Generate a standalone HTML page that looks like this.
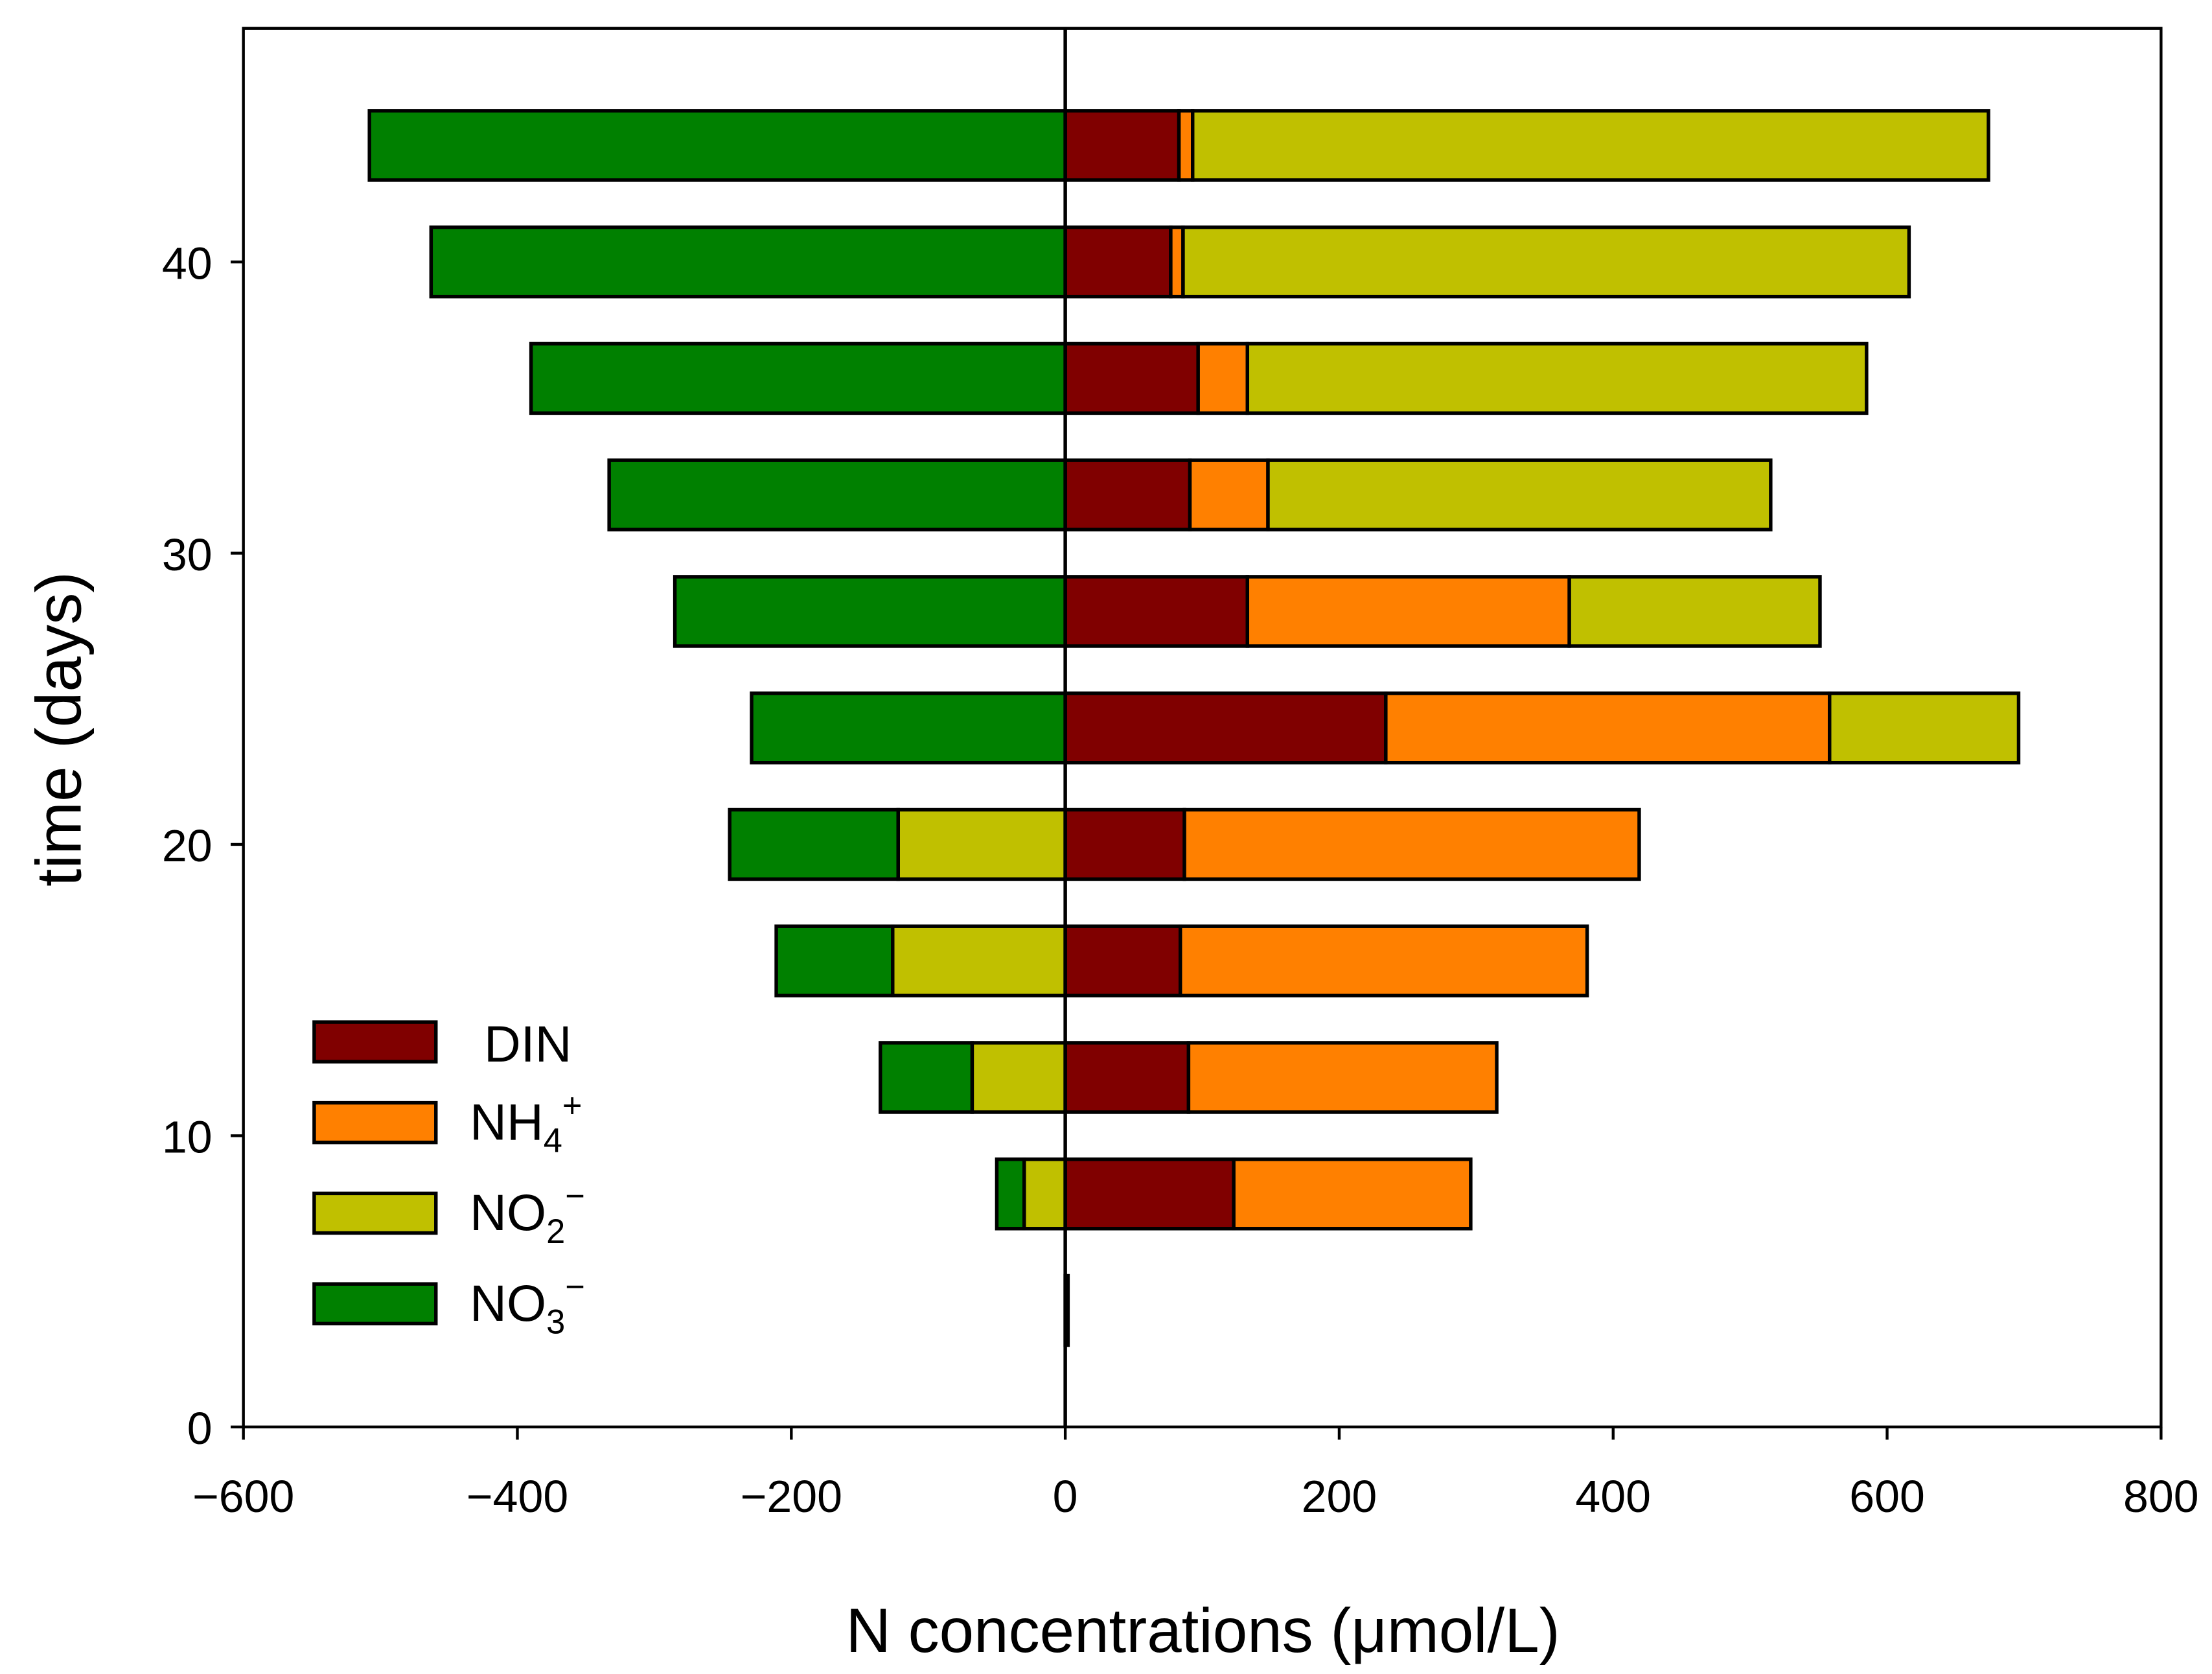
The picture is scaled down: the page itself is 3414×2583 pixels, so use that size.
<!DOCTYPE html>
<html><head><meta charset="utf-8"><style>html,body{margin:0;padding:0;background:#fff}svg{display:block}text{font-family:"Liberation Sans",sans-serif;fill:#000}</style></head>
<body>
<svg id="chart" width="3414" height="2583" viewBox="0 0 1563 1182.5" xmlns="http://www.w3.org/2000/svg">
<rect x="0" y="0" width="1563" height="1182.5" fill="#fff"/>
<g id="bars"></g>
<g id="axes"></g>
<text x="850" y="1167" font-size="44" text-anchor="middle">N concentrations (μmol/L)</text>
<text transform="translate(57,515) rotate(-90)" font-size="45" text-anchor="middle">time (days)</text>
<g font-size="36">
<g><rect x="222" y="722" width="86" height="28" fill="#800000" stroke="#000" stroke-width="2.5"/><text x="342" y="750">DIN</text></g>
<g><rect x="222" y="779" width="86" height="28" fill="#ff8000" stroke="#000" stroke-width="2.5"/><text x="332" y="805">NH<tspan font-size="24" dy="9">4</tspan><tspan font-size="24" dy="-25">+</tspan></text></g>
<g><rect x="222" y="843" width="86" height="28" fill="#c0c000" stroke="#000" stroke-width="2.5"/><text x="332" y="869">NO<tspan font-size="24" dy="9">2</tspan><tspan font-size="24" dy="-25">−</tspan></text></g>
<g><rect x="222" y="907" width="86" height="28" fill="#008000" stroke="#000" stroke-width="2.5"/><text x="332" y="933">NO<tspan font-size="24" dy="9">3</tspan><tspan font-size="24" dy="-25">−</tspan></text></g>
</g>
</svg>
<script>
const days = [4, 8, 12, 16, 20, 24, 28, 32, 36, 40, 44];
const din = [2, 123, 90, 84, 87, 234, 133, 91, 97, 77, 83];
const nh4 = [0, 173, 225, 297, 332, 324, 235, 57, 36, 9, 10];
const no2Pos = [0, 0, 0, 0, 0, 138, 183, 367, 452, 530, 581];
const no2Neg = [0, 30, 68, 126, 122, 0, 0, 0, 0, 0, 0];
const no3 = [0, 20, 67, 85, 123, 229, 285, 333, 390, 463, 508];
const xTicks = [-600, -400, -200, 0, 200, 400, 600, 800];
const yTicks = [0, 10, 20, 30, 40];

const L=172,R=1527,T=20,B=1008;
const xs=v=>L+(v+600)*(R-L)/1400;
const ys=v=>B-v*(1008-185)/40;
const NS="http://www.w3.org/2000/svg";
const bars=document.getElementById('bars'), axes=document.getElementById('axes');
function rect(g,x0,x1,yc,fill,name){
  if(Math.abs(x1-x0)<0.01)return;
  const r=document.createElementNS(NS,'rect');
  const h=49;
  r.setAttribute('x',Math.min(xs(x0),xs(x1)));r.setAttribute('width',Math.abs(xs(x1)-xs(x0)));
  r.setAttribute('y',ys(yc)-h/2);r.setAttribute('height',h);
  r.setAttribute('fill',fill);r.setAttribute('stroke','#000');r.setAttribute('stroke-width','2.5');
  
  
  g.appendChild(r);
}
days.forEach((d,i)=>{
  let c=0;
  rect(bars,c,c+din[i],d,'#800000','bar-din-day'+d);c+=din[i];
  rect(bars,c,c+nh4[i],d,'#ff8000','bar-nh4-day'+d);c+=nh4[i];
  rect(bars,c,c+no2Pos[i],d,'#c0c000','bar-no2-day'+d);
  let n=0;
  rect(bars,n,n-no2Neg[i],d,'#c0c000','bar-no2-neg-day'+d);n-=no2Neg[i];
  rect(bars,n,n-no3[i],d,'#008000','bar-no3-day'+d);
});
function line(x1,y1,x2,y2,w,name){
  const l=document.createElementNS(NS,'line');
  l.setAttribute('x1',x1);l.setAttribute('y1',y1);l.setAttribute('x2',x2);l.setAttribute('y2',y2);
  l.setAttribute('stroke','#000');l.setAttribute('stroke-width',w);
  
  
  axes.appendChild(l);
}
function text(x,y,s,anchor,name){
  const t=document.createElementNS(NS,'text');
  t.setAttribute('x',x);t.setAttribute('y',y);t.setAttribute('font-size','32');t.setAttribute('text-anchor',anchor);
  t.textContent=s;
  
  
  axes.appendChild(t);
}
const fr=document.createElementNS(NS,'rect');
fr.setAttribute('x',L);fr.setAttribute('y',T);fr.setAttribute('width',R-L);fr.setAttribute('height',B-T);
fr.setAttribute('fill','none');fr.setAttribute('stroke','#000');fr.setAttribute('stroke-width','2');


axes.appendChild(fr);
line(xs(0),T,xs(0),B,2.5,'zero-line');
xTicks.forEach(v=>{line(xs(v),B,xs(v),B+9,2,'x-tick');text(xs(v),B+60,v<0?'−'+(-v):String(v),'middle','x-tick-label');});
yTicks.forEach(v=>{line(L-9,ys(v),L,ys(v),2,'y-tick');text(L-22,ys(v)+12,String(v),'end','y-tick-label');});
</script>
</body></html>
